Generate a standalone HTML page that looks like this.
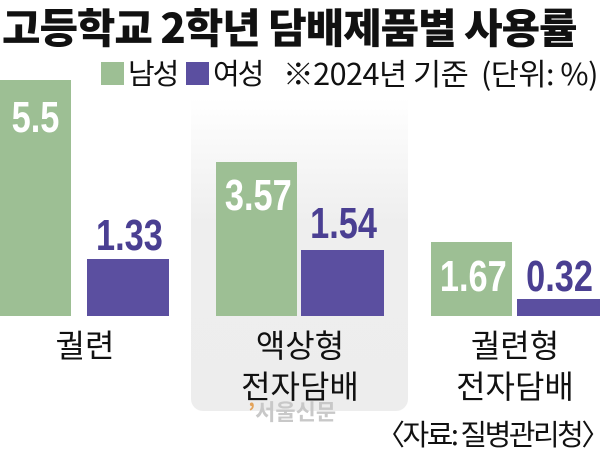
<!DOCTYPE html>
<html><head><meta charset="utf-8"><style>
html,body{margin:0;padding:0;background:#fff;}
body{width:600px;height:459px;position:relative;overflow:hidden;font-family:"Liberation Sans","Noto Sans CJK KR",sans-serif;}
div{position:absolute;}
.g{background:#9dbf94;}
.p{background:#5b4fa0;}
.n{font-family:"Liberation Sans",sans-serif;font-weight:bold;font-size:44px;line-height:44px;text-align:center;transform:scaleX(0.78);}
.c{font-family:"Noto Sans CJK KR",sans-serif;font-size:32px;line-height:41px;text-align:center;color:#111;}
</style></head><body>
<div style="left:191px;top:98px;width:217px;height:313px;border-radius:0 0 12px 12px;background:linear-gradient(#ffffff,#eeeeee 40%,#ededed);"></div>
<div style="left:2px;top:-2px;font-family:'Noto Sans CJK KR',sans-serif;font-weight:900;font-size:41px;line-height:54px;color:#111;white-space:nowrap;letter-spacing:-1px;transform-origin:0 0;transform:scaleX(1.02);">고등학교 2학년 담배제품별 사용률</div>
<div style="left:101px;top:62px;width:23px;height:23px;" class="g"></div>
<div style="left:186px;top:62px;width:23px;height:23px;" class="p"></div>
<div style="left:128px;top:53px;font-family:'Noto Sans CJK KR',sans-serif;font-size:29px;line-height:38px;color:#111;white-space:nowrap;letter-spacing:-2px;">남성</div>
<div style="left:213px;top:53px;font-family:'Noto Sans CJK KR',sans-serif;font-size:29px;line-height:38px;color:#111;white-space:nowrap;letter-spacing:-2px;">여성</div>
<div style="left:283px;top:53px;font-family:'Noto Sans CJK KR',sans-serif;font-size:30px;line-height:38px;color:#111;white-space:nowrap;letter-spacing:-0.5px;transform-origin:0 0;transform:scaleX(1.02);">※2024년 기준 &nbsp;(단위: %)</div>

<div class="g" style="left:0;top:80px;width:71px;height:236px;"></div>
<div class="p" style="left:87px;top:259px;width:82px;height:57px;"></div>
<div class="g" style="left:216px;top:162px;width:81px;height:154px;"></div>
<div class="p" style="left:301px;top:250px;width:83px;height:66px;"></div>
<div class="g" style="left:431px;top:242px;width:81px;height:74px;"></div>
<div class="p" style="left:517px;top:299px;width:83px;height:17px;"></div>

<div class="n" style="left:0;top:96px;width:71px;color:#fff;">5.5</div>
<div class="n" style="left:87px;top:214px;width:82px;color:#4a3f92;">1.33</div>
<div class="n" style="left:216px;top:174px;width:81px;color:#fff;">3.57</div>
<div class="n" style="left:301px;top:202px;width:83px;color:#4a3f92;">1.54</div>
<div class="n" style="left:431px;top:255px;width:81px;color:#fff;">1.67</div>
<div class="n" style="left:517px;top:255px;width:83px;color:#4a3f92;">0.32</div>

<div class="c" style="left:30px;top:324px;width:110px;">궐련</div>
<div class="c" style="left:220px;top:324px;width:160px;">액상형<br>전자담배</div>
<div class="c" style="left:435px;top:324px;width:160px;">궐련형<br>전자담배</div>
<div style="left:248px;top:396px;font-family:'Noto Sans CJK KR',sans-serif;font-weight:bold;font-size:22px;line-height:30px;color:#c8c8c8;white-space:nowrap;"><span style="color:#e3a35a;">’</span>서울신문</div>
<div style="left:376px;top:414px;font-family:'Noto Sans CJK KR',sans-serif;font-size:29px;line-height:38px;color:#111;white-space:nowrap;letter-spacing:-2.5px;">〈자료: 질병관리청〉</div>
</body></html>
